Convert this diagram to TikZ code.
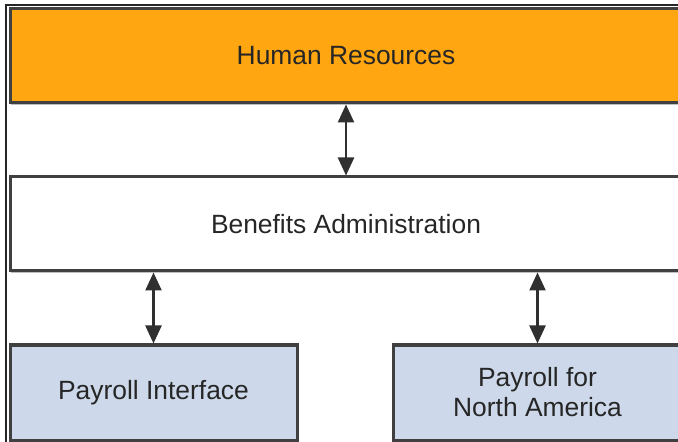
\documentclass[tikz,border=0pt]{standalone}
\usepackage{fontspec}
\setmainfont{Liberation Sans}
\usetikzlibrary{arrows.meta,shadows}
\definecolor{hrorange}{RGB}{255,166,16}
\definecolor{payblue}{RGB}{205,217,234}
\definecolor{boxline}{RGB}{64,64,64}
\definecolor{arrowgray}{RGB}{48,48,48}
\tikzset{
  boxbase/.style={draw=boxline, line width=1.5pt, inner sep=0pt, align=center,
    font=\fontsize{13.2}{15}\selectfont, text=black!85,
    drop shadow={shadow xshift=0.3pt, shadow yshift=-1.2pt, opacity=0.25, fill=black}},
  hrbox/.style={boxbase, fill=hrorange, minimum width=336pt, minimum height=47pt},
  babox/.style={boxbase, fill=white, minimum width=336pt, minimum height=47pt},
  paybox/.style={boxbase, fill=payblue, minimum height=47.5pt},
  link/.style={draw=arrowgray, line width=1.2pt,
    {Triangle[width=8pt,length=9pt]}-{Triangle[width=8pt,length=9pt]}}
}
\begin{document}
\begin{tikzpicture}[x=0.5pt,y=-0.5pt]
  \useasboundingbox (0,0) rectangle (678,442);
  \clip (0,0) rectangle (678,442);
  \fill[white] (0,0) rectangle (678,442);
  \draw[black!85, line width=1pt] (6,444) -- (6,5) -- (680,5);
  \node[hrbox] (hr) at (346,56) {Human Resources};
  \node[babox] (ba) at (346,224) {Benefits Administration};
  \node[paybox, minimum width=143.5pt] (pi) at (153.5,392.5) {Payroll Interface};
  \node[paybox, minimum width=144.5pt] (pna) at (537.5,392.5) {Payroll for\\North America};
  \draw[link] (hr.south) -- (ba.north);
  \draw[link] (pi.north |- ba.south) -- (pi.north);
  \draw[link] (pna.north |- ba.south) -- (pna.north);
\end{tikzpicture}
\end{document}
